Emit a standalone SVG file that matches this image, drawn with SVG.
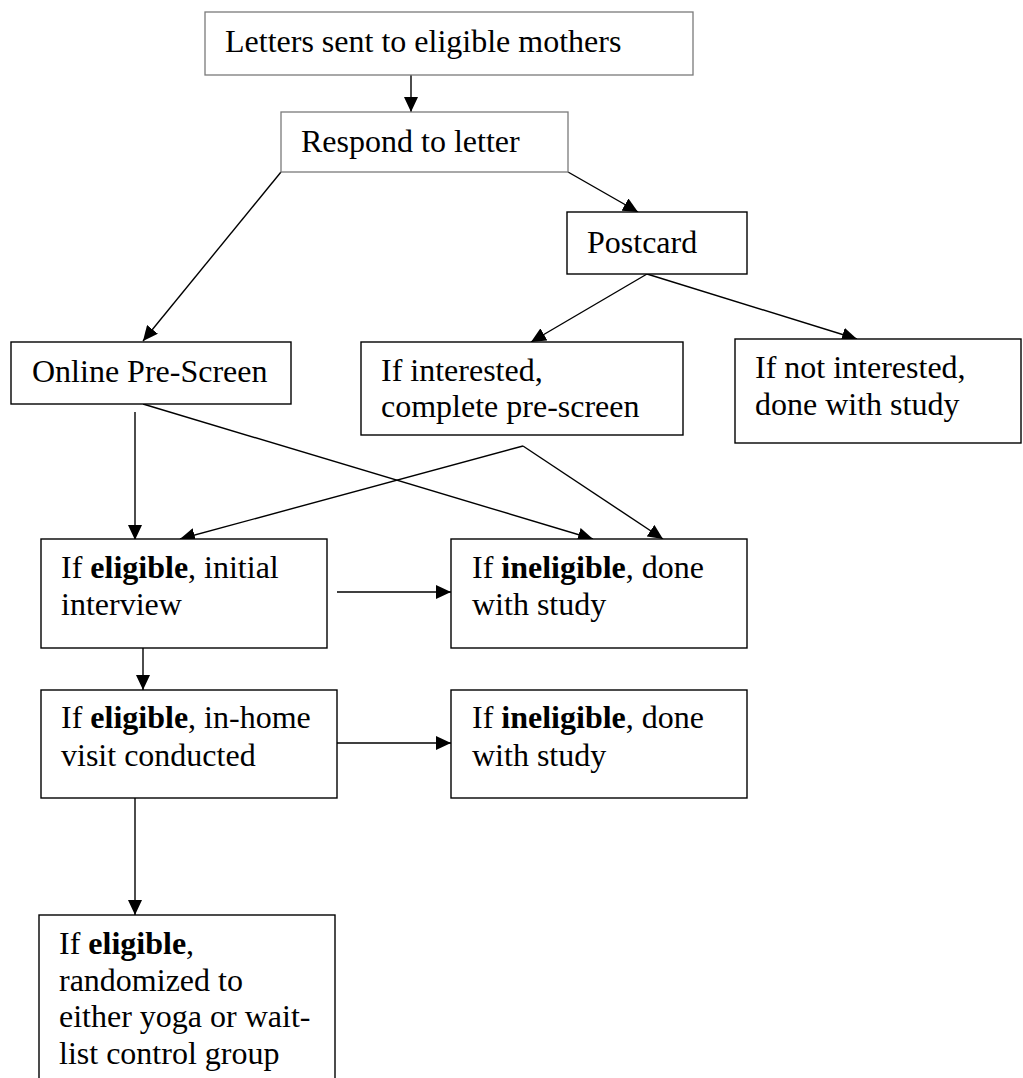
<svg xmlns="http://www.w3.org/2000/svg" width="1023" height="1078" viewBox="0 0 1023 1078">
<style>
.box{fill:#fff;stroke:#000;stroke-width:1.4}
.gbox{fill:#fff;stroke:#7a7a7a;stroke-width:1.3}
text{font-family:"Liberation Serif","Times New Roman",serif;font-size:32px;fill:#000}
.b{font-weight:bold}
.c{stroke:#000;stroke-width:1.4;fill:none}
</style>
<defs>
<marker id="ah" markerUnits="userSpaceOnUse" markerWidth="16" markerHeight="14" refX="15" refY="7" orient="auto">
<path d="M0,0 L15,7 L0,14 z" fill="#000"/>
</marker>
</defs>
<rect width="1023" height="1078" fill="#fff"/>
<g id="connectors">
<line class="c" x1="411" y1="75" x2="411" y2="112" marker-end="url(#ah)"/>
<line class="c" x1="281" y1="172" x2="143" y2="341" marker-end="url(#ah)"/>
<line class="c" x1="568" y1="172" x2="638" y2="212" marker-end="url(#ah)"/>
<line class="c" x1="647" y1="274" x2="531" y2="342" marker-end="url(#ah)"/>
<line class="c" x1="647" y1="274" x2="857" y2="339" marker-end="url(#ah)"/>
<line class="c" x1="135" y1="412" x2="135" y2="540" marker-end="url(#ah)"/>
<line class="c" x1="143" y1="404" x2="593" y2="539" marker-end="url(#ah)"/>
<line class="c" x1="523" y1="446" x2="180" y2="539" marker-end="url(#ah)"/>
<line class="c" x1="523" y1="446" x2="663" y2="539" marker-end="url(#ah)"/>
<line class="c" x1="337" y1="592" x2="451" y2="592" marker-end="url(#ah)"/>
<line class="c" x1="143" y1="648" x2="143" y2="690" marker-end="url(#ah)"/>
<line class="c" x1="337" y1="743" x2="451" y2="743" marker-end="url(#ah)"/>
<line class="c" x1="135" y1="796" x2="135" y2="915" marker-end="url(#ah)"/>
</g>
<g id="letters">
<rect class="gbox" x="205" y="12" width="488" height="63"/>
<text x="225" y="52">Letters sent to eligible mothers</text>
</g>
<g id="respond">
<rect class="gbox" x="281" y="112" width="287" height="60"/>
<text x="301" y="152">Respond to letter</text>
</g>
<g id="postcard">
<rect class="box" x="567" y="212" width="180" height="62"/>
<text x="587" y="253">Postcard</text>
</g>
<g id="online">
<rect class="box" x="11" y="342" width="280" height="62"/>
<text x="32" y="382">Online Pre-Screen</text>
</g>
<g id="interested">
<rect class="box" x="361" y="342" width="322" height="93"/>
<text x="381" y="381">If interested,</text>
<text x="381" y="417">complete pre-screen</text>
</g>
<g id="not-interested">
<rect class="box" x="735" y="339" width="286" height="104"/>
<text x="755" y="378">If not interested,</text>
<text x="755" y="415">done with study</text>
</g>
<g id="eligible-interview">
<rect class="box" x="41" y="539" width="286" height="109"/>
<text x="61" y="578">If <tspan class="b">eligible</tspan>, initial</text>
<text x="61" y="615">interview</text>
</g>
<g id="ineligible-1">
<rect class="box" x="451" y="539" width="296" height="109"/>
<text x="472" y="578">If <tspan class="b">ineligible</tspan>, done</text>
<text x="472" y="615">with study</text>
</g>
<g id="eligible-visit">
<rect class="box" x="41" y="690" width="296" height="108"/>
<text x="61" y="728">If <tspan class="b">eligible</tspan>, in-home</text>
<text x="61" y="766">visit conducted</text>
</g>
<g id="ineligible-2">
<rect class="box" x="451" y="690" width="296" height="108"/>
<text x="472" y="728">If <tspan class="b">ineligible</tspan>, done</text>
<text x="472" y="766">with study</text>
</g>
<g id="randomized">
<rect class="box" x="39" y="915" width="296" height="180"/>
<text x="59" y="954">If <tspan class="b">eligible</tspan>,</text>
<text x="59" y="991">randomized to</text>
<text x="59" y="1027">either yoga or wait-</text>
<text x="59" y="1064">list control group</text>
</g>
</svg>
